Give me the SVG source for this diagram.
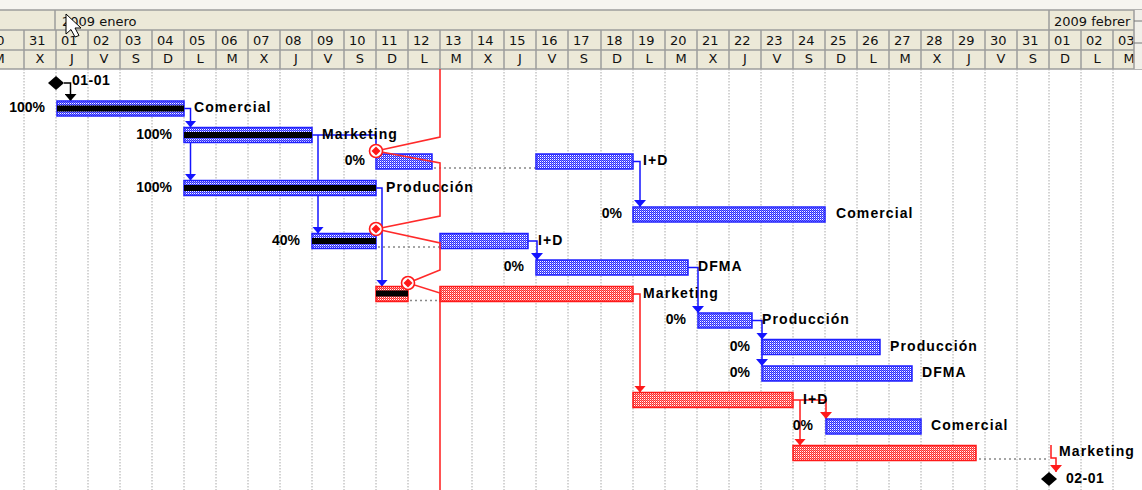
<svg xmlns="http://www.w3.org/2000/svg" width="1142" height="490" viewBox="0 0 1142 490">
<style>
.hd{font-family:"DejaVu Sans",sans-serif;font-size:13px;fill:#111}
.wd{font-family:"DejaVu Sans",sans-serif;font-size:13px;fill:#111;text-anchor:middle}
.nm{font-family:"Liberation Sans",Arial,sans-serif;font-weight:bold;font-size:14px;letter-spacing:1.1px;fill:#000}
.pc{font-family:"Liberation Sans",Arial,sans-serif;font-weight:bold;font-size:14px;fill:#000;text-anchor:end}
.grid{stroke:#a8a8a8;stroke-width:1;stroke-dasharray:1.5 1.5}
.hsep{stroke:#9c9c9c;stroke-width:1.5}
.bb{fill:url(#pb);stroke:#2020ff;stroke-width:1.5}
.rb{fill:url(#pr);stroke:#ff1a1a;stroke-width:1.5}
.prg{fill:#000}
.dot{stroke:#888;stroke-width:1.5;stroke-dasharray:2 3}
.cb{fill:none;stroke:#1414ff;stroke-width:1.5;marker-end:url(#ab)}
.cr{fill:none;stroke:#ff1a1a;stroke-width:1.5;marker-end:url(#ar)}
.ck{fill:none;stroke:#000;stroke-width:1.5;marker-end:url(#ak)}
.px{shape-rendering:crispEdges}
</style>
<defs>
<pattern id="pb" width="2" height="2" patternUnits="userSpaceOnUse"><rect class="px" width="2" height="2" fill="#ffffff"/><rect class="px" width="1" height="1" fill="#2a2aff"/><rect class="px" x="1" y="1" width="1" height="1" fill="#2a2aff"/><rect class="px" x="1" width="1" height="1" fill="#7a7aff"/></pattern>
<pattern id="pr" width="2" height="2" patternUnits="userSpaceOnUse"><rect class="px" width="2" height="2" fill="#ffffff"/><rect class="px" width="1" height="1" fill="#ff2a2a"/><rect class="px" x="1" y="1" width="1" height="1" fill="#ff2a2a"/><rect class="px" x="1" width="1" height="1" fill="#ff7a7a"/></pattern>
<marker id="ab" viewBox="0 0 7 12" refX="7" refY="6" markerWidth="7" markerHeight="12" markerUnits="userSpaceOnUse" orient="auto"><path d="M0,0 L7,6 L0,12 Z" fill="#1414ff"/></marker>
<marker id="ar" viewBox="0 0 7 12" refX="7" refY="6" markerWidth="7" markerHeight="12" markerUnits="userSpaceOnUse" orient="auto"><path d="M0,0 L7,6 L0,12 Z" fill="#ff1a1a"/></marker>
<marker id="ak" viewBox="0 0 7 12" refX="7" refY="6" markerWidth="7" markerHeight="12" markerUnits="userSpaceOnUse" orient="auto"><path d="M0,0 L7,6 L0,12 Z" fill="#000"/></marker>
<g id="pd"><circle r="6.5" fill="#fff" stroke="#ff1a1a" stroke-width="1.6"/><path d="M0,-4.5 L4.5,0 L0,4.5 L-4.5,0 Z" fill="#ff1a1a"/></g>
</defs>
<rect width="1142" height="490" fill="#ffffff"/>
<rect width="1142" height="10" fill="#f6f5f0"/>
<g id="header">
<rect x="0" y="10" width="1142" height="59" fill="#ece9d8"/>
<line class="hsep" x1="0" y1="10" x2="1142" y2="10" stroke="#8a8a8a"/>
<line class="hsep" x1="0" y1="30" x2="1142" y2="30"/>
<line class="hsep" x1="0" y1="50" x2="1142" y2="50"/>
<line class="hsep" x1="0" y1="69" x2="1142" y2="69"/>
<line class="hsep" x1="55" y1="10" x2="55" y2="30"/>
<line class="hsep" x1="1049" y1="10" x2="1049" y2="30"/>
<text class="hd" x="62" y="26">2009 enero</text>
<text class="hd" x="1054" y="26">2009 febrer</text>
<g class="hsep">
<line x1="24" y1="30" x2="24" y2="69"/><line x1="56" y1="30" x2="56" y2="69"/><line x1="88" y1="30" x2="88" y2="69"/><line x1="120" y1="30" x2="120" y2="69"/><line x1="152" y1="30" x2="152" y2="69"/><line x1="184" y1="30" x2="184" y2="69"/><line x1="216" y1="30" x2="216" y2="69"/><line x1="248" y1="30" x2="248" y2="69"/><line x1="280" y1="30" x2="280" y2="69"/><line x1="312" y1="30" x2="312" y2="69"/><line x1="344" y1="30" x2="344" y2="69"/><line x1="376" y1="30" x2="376" y2="69"/><line x1="408" y1="30" x2="408" y2="69"/><line x1="440" y1="30" x2="440" y2="69"/><line x1="472" y1="30" x2="472" y2="69"/><line x1="504" y1="30" x2="504" y2="69"/><line x1="536" y1="30" x2="536" y2="69"/><line x1="568" y1="30" x2="568" y2="69"/><line x1="601" y1="30" x2="601" y2="69"/><line x1="633" y1="30" x2="633" y2="69"/><line x1="665" y1="30" x2="665" y2="69"/><line x1="697" y1="30" x2="697" y2="69"/><line x1="729" y1="30" x2="729" y2="69"/><line x1="761" y1="30" x2="761" y2="69"/><line x1="793" y1="30" x2="793" y2="69"/><line x1="825" y1="30" x2="825" y2="69"/><line x1="857" y1="30" x2="857" y2="69"/><line x1="889" y1="30" x2="889" y2="69"/><line x1="921" y1="30" x2="921" y2="69"/><line x1="953" y1="30" x2="953" y2="69"/><line x1="985" y1="30" x2="985" y2="69"/><line x1="1017" y1="30" x2="1017" y2="69"/><line x1="1049" y1="30" x2="1049" y2="69"/><line x1="1081" y1="30" x2="1081" y2="69"/><line x1="1113" y1="30" x2="1113" y2="69"/>
</g>
<g class="hd">
<text x="-12" y="45">30</text><text x="29" y="45">31</text><text x="61" y="45">01</text><text x="93" y="45">02</text><text x="125" y="45">03</text><text x="157" y="45">04</text><text x="189" y="45">05</text><text x="221" y="45">06</text><text x="253" y="45">07</text><text x="285" y="45">08</text><text x="317" y="45">09</text><text x="349" y="45">10</text><text x="381" y="45">11</text><text x="413" y="45">12</text><text x="445" y="45">13</text><text x="477" y="45">14</text><text x="509" y="45">15</text><text x="541" y="45">16</text><text x="573" y="45">17</text><text x="606" y="45">18</text><text x="638" y="45">19</text><text x="670" y="45">20</text><text x="702" y="45">21</text><text x="734" y="45">22</text><text x="766" y="45">23</text><text x="798" y="45">24</text><text x="830" y="45">25</text><text x="862" y="45">26</text><text x="894" y="45">27</text><text x="926" y="45">28</text><text x="958" y="45">29</text><text x="990" y="45">30</text><text x="1022" y="45">31</text><text x="1054" y="45">01</text><text x="1086" y="45">02</text><text x="1118" y="45">03</text>
</g>
<g class="wd">
<text x="-1" y="63">M</text><text x="40" y="63">X</text><text x="72" y="63">J</text><text x="104" y="63">V</text><text x="136" y="63">S</text><text x="168" y="63">D</text><text x="200" y="63">L</text><text x="232" y="63">M</text><text x="264" y="63">X</text><text x="296" y="63">J</text><text x="328" y="63">V</text><text x="360" y="63">S</text><text x="392" y="63">D</text><text x="424" y="63">L</text><text x="456" y="63">M</text><text x="488" y="63">X</text><text x="520" y="63">J</text><text x="552" y="63">V</text><text x="584" y="63">S</text><text x="617" y="63">D</text><text x="649" y="63">L</text><text x="681" y="63">M</text><text x="713" y="63">X</text><text x="745" y="63">J</text><text x="777" y="63">V</text><text x="809" y="63">S</text><text x="841" y="63">D</text><text x="873" y="63">L</text><text x="905" y="63">M</text><text x="937" y="63">X</text><text x="969" y="63">J</text><text x="1001" y="63">V</text><text x="1033" y="63">S</text><text x="1065" y="63">D</text><text x="1097" y="63">L</text><text x="1129" y="63">M</text>
</g>
<rect x="1134" y="10" width="8" height="59" fill="#f1f0ea"/>
<line x1="1134" y1="10" x2="1134" y2="69" stroke="#9c9c9c" stroke-width="1.5"/>
<line x1="1134" y1="21" x2="1142" y2="21" stroke="#777" stroke-width="1"/>
<line x1="1134" y1="43" x2="1142" y2="43" stroke="#777" stroke-width="1"/>
</g>
<g id="gridlines" class="grid">
<line x1="24" y1="69" x2="24" y2="490"/><line x1="56" y1="69" x2="56" y2="490"/><line x1="88" y1="69" x2="88" y2="490"/><line x1="120" y1="69" x2="120" y2="490"/><line x1="152" y1="69" x2="152" y2="490"/><line x1="184" y1="69" x2="184" y2="490"/><line x1="216" y1="69" x2="216" y2="490"/><line x1="248" y1="69" x2="248" y2="490"/><line x1="280" y1="69" x2="280" y2="490"/><line x1="312" y1="69" x2="312" y2="490"/><line x1="344" y1="69" x2="344" y2="490"/><line x1="376" y1="69" x2="376" y2="490"/><line x1="408" y1="69" x2="408" y2="490"/><line x1="472" y1="69" x2="472" y2="490"/><line x1="504" y1="69" x2="504" y2="490"/><line x1="536" y1="69" x2="536" y2="490"/><line x1="568" y1="69" x2="568" y2="490"/><line x1="601" y1="69" x2="601" y2="490"/><line x1="633" y1="69" x2="633" y2="490"/><line x1="665" y1="69" x2="665" y2="490"/><line x1="697" y1="69" x2="697" y2="490"/><line x1="729" y1="69" x2="729" y2="490"/><line x1="761" y1="69" x2="761" y2="490"/><line x1="793" y1="69" x2="793" y2="490"/><line x1="825" y1="69" x2="825" y2="490"/><line x1="857" y1="69" x2="857" y2="490"/><line x1="889" y1="69" x2="889" y2="490"/><line x1="921" y1="69" x2="921" y2="490"/><line x1="953" y1="69" x2="953" y2="490"/><line x1="985" y1="69" x2="985" y2="490"/><line x1="1017" y1="69" x2="1017" y2="490"/><line x1="1049" y1="69" x2="1049" y2="490"/><line x1="1081" y1="69" x2="1081" y2="490"/><line x1="1113" y1="69" x2="1113" y2="490"/>
</g>
<g id="connectors">
<path class="ck" d="M64,83 H70.5 V101"/>
<path class="cb" d="M184,108.5 H190.5 V127.5"/>
<path class="cb" d="M190.5,127.5 V180.5"/>
<path class="cb" d="M312,135 H376 V154"/>
<path class="cb" d="M318,135 V233.5"/>
<path class="cb" d="M376,188 H382 V286.5"/>
<path class="cb" d="M633,161.5 H640 V207"/>
<path class="cb" d="M528,241 H537 V260"/>
<path class="cb" d="M688,267.5 H698 V313"/>
<path class="cr" d="M633,294 H640 V392.5"/>
<path class="cb" d="M752,320.5 H762 V339.5"/>
<path class="cb" d="M762,339.5 V366"/>
<path class="cr" d="M793,400 H826 V419"/>
<path class="cr" d="M800,400 V445.5"/>
<path class="cr" d="M1051,445 V458 H1056 V472"/>
</g>
<g id="ms-start">
<path d="M56,76 L64,83 L56,90 L48,83 Z" fill="#000"/>
<text class="nm" x="72" y="85" style="letter-spacing:0.5px">01-01</text>
</g>
<g id="t1-comercial">
<rect class="bb" x="57" y="101" width="127" height="15"/>
<rect class="prg" x="57" y="105.5" width="127" height="6"/>
<text class="pc" x="45" y="112">100%</text>
<text class="nm" x="194" y="112">Comercial</text>
</g>
<g id="t2-marketing">
<rect class="bb" x="184" y="127.5" width="128" height="15"/>
<rect class="prg" x="184" y="132" width="128" height="6"/>
<text class="pc" x="172" y="138.5">100%</text>
<text class="nm" x="322" y="138.5">Marketing</text>
</g>
<g id="t3-id">
<rect class="bb" x="376" y="154" width="56" height="15"/>
<line class="dot" x1="434" y1="168" x2="536" y2="168"/>
<rect class="bb" x="536" y="154" width="97" height="15"/>
<text class="pc" x="365" y="165">0%</text>
<text class="nm" x="643" y="165">I+D</text>
</g>
<g id="t4-produccion">
<rect class="bb" x="184" y="180.5" width="192" height="15"/>
<rect class="prg" x="184" y="185" width="192" height="6"/>
<text class="pc" x="172" y="191.5">100%</text>
<text class="nm" x="386" y="191.5">Producción</text>
</g>
<g id="t5-comercial">
<rect class="bb" x="633" y="207" width="192" height="15"/>
<text class="pc" x="622" y="218">0%</text>
<text class="nm" x="836" y="218">Comercial</text>
</g>
<g id="t6-id">
<rect class="bb" x="312" y="233.5" width="64" height="15"/>
<rect class="prg" x="312" y="238" width="64" height="6"/>
<line class="dot" x1="378" y1="247" x2="440" y2="247"/>
<rect class="bb" x="440" y="233.5" width="88" height="15"/>
<text class="pc" x="300" y="244.5">40%</text>
<text class="nm" x="538" y="244.5">I+D</text>
</g>
<g id="t7-dfma">
<rect class="bb" x="536" y="260" width="152" height="15"/>
<text class="pc" x="524" y="271">0%</text>
<text class="nm" x="698" y="271">DFMA</text>
</g>
<g id="t8-marketing">
<rect class="rb" x="376" y="286.5" width="32" height="15"/>
<rect class="prg" x="376" y="290.5" width="32" height="6"/>
<line class="dot" x1="410" y1="300.5" x2="440" y2="300.5"/>
<rect class="rb" x="440" y="286.5" width="193" height="15"/>
<text class="nm" x="643" y="297.5">Marketing</text>
</g>
<g id="t9-produccion">
<rect class="bb" x="698" y="313" width="54" height="15"/>
<text class="pc" x="686" y="324">0%</text>
<text class="nm" x="762" y="324">Producción</text>
</g>
<g id="t10-produccion">
<rect class="bb" x="762" y="339.5" width="118" height="15"/>
<text class="pc" x="750" y="350.5">0%</text>
<text class="nm" x="890" y="350.5">Producción</text>
</g>
<g id="t11-dfma">
<rect class="bb" x="762" y="366" width="150" height="15"/>
<text class="pc" x="750" y="377">0%</text>
<text class="nm" x="922" y="377">DFMA</text>
</g>
<g id="t12-id">
<rect class="rb" x="633" y="392.5" width="160" height="15"/>
<text class="nm" x="803" y="403.5">I+D</text>
</g>
<g id="t13-comercial">
<rect class="bb" x="826" y="419" width="95" height="15"/>
<text class="pc" x="813" y="430">0%</text>
<text class="nm" x="931" y="430">Comercial</text>
</g>
<g id="t14-marketing">
<rect class="rb" x="793" y="445.5" width="183" height="15"/>
<line class="dot" x1="979" y1="459" x2="1049" y2="459"/>
<text class="nm" x="1059" y="455.5">Marketing</text>
</g>
<g id="ms-end">
<path d="M1049,472 L1057,479 L1049,486 L1041,479 Z" fill="#000"/>
<text class="nm" x="1066" y="483" style="letter-spacing:0.5px">02-01</text>
</g>
<g id="progress-line">
<polyline points="440,69 440,137 376,151 440,163 440,216 376,229 440,243 440,270 408,283 440,293 440,490" fill="none" stroke="#ff2a2a" stroke-width="1.6"/>
<use href="#pd" x="376" y="151"/>
<use href="#pd" x="376" y="229"/>
<use href="#pd" x="408" y="283"/>
</g>
<path id="cursor" d="M66,14 L66,34 L71,29.5 L75,37 L79,35.5 L75,28 L81,28 Z" fill="#fff" stroke="#000" stroke-width="1"/>
</svg>
